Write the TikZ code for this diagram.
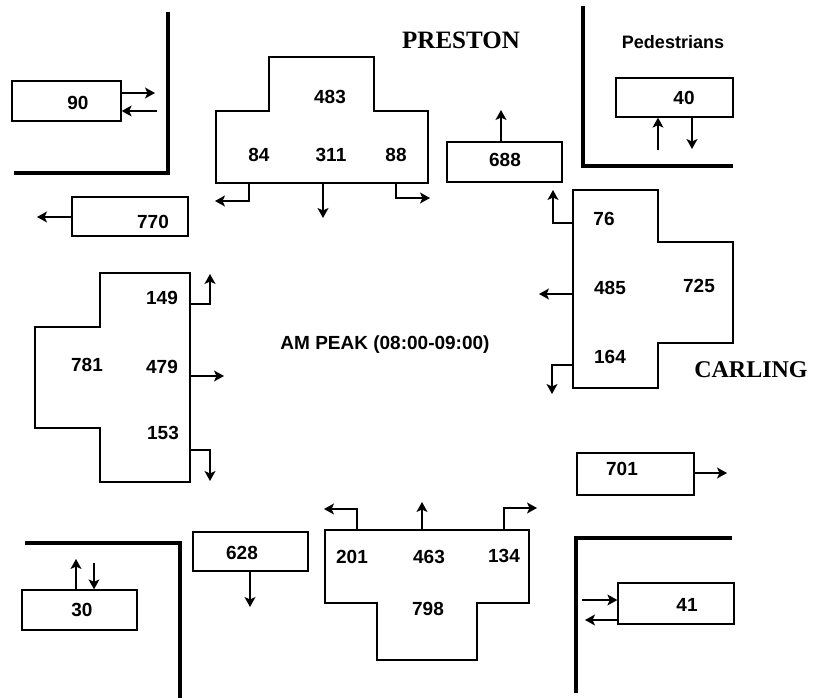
\documentclass[tikz,border=0pt]{standalone}
\usepackage{fontspec}
\setmainfont{Liberation Serif}
\setsansfont{Liberation Sans}
\usetikzlibrary{arrows.meta}
\tikzset{
  box/.style={draw, line width=1.3pt, inner sep=0pt},
  outl/.style={draw, line width=1.3pt, line join=miter},
  num/.style={font=\sffamily\bfseries\fontsize{19}{19}\selectfont, inner sep=0pt},
  smalllbl/.style={font=\sffamily\bfseries\fontsize{18}{18}\selectfont, inner sep=0pt},
  road/.style={font=\rmfamily\bfseries\fontsize{25}{25}\selectfont, inner sep=0pt},
  arr/.style={line width=1.3pt, -{Stealth[length=10pt,width=11pt,inset=2.5pt]}},
  wall/.style={line width=3.8pt, line join=miter},
}
\begin{document}
\begin{tikzpicture}[x=1pt,y=-1pt]
\fill[white] (0,0) rectangle (817,698);
\useasboundingbox (0,0) rectangle (817,698);

% ---------- corner walls ----------
\draw[wall] (168,12) -- (168,173) -- (14,173);
\draw[wall] (583,6) -- (583,166) -- (733,166);
\draw[wall] (25,543) -- (180,543) -- (180,698);
\draw[wall] (732,538) -- (576,538) -- (576,693);

% ---------- road names / titles ----------
\node[road] (preston) at (461,40) {PRESTON};
\node[road,font=\rmfamily\bfseries\fontsize{24}{24}\selectfont] (carling) at (751,370) {CARLING};
\node[smalllbl] (ped) at (673,42) {Pedestrians};
\node[num] (peak) at (385,345) {AM PEAK (08:00-09:00)};

% ---------- top-left: pedestrians 90 ----------
\node[box, minimum width=109pt, minimum height=40pt] (b90) at (66.5,101) {};
\node[num] (t90) at (78,103) {90};
\coordinate (a90o) at (155,93);
\coordinate (a90i) at (157,111);
\draw[arr] (a90o -| b90.east) -- (a90o);
\draw[arr] (a90i) -- (a90i -| b90.east);

% ---------- 770 ----------
\node[box, minimum width=116pt, minimum height=39pt] (b770) at (130,216.5) {};
\node[num] (t770) at (153,222) {770};
\coordinate (a770) at (37,217);
\draw[arr] (a770 -| b770.west) -- (a770);

% ---------- top approach (Preston south-bound) ----------
\draw[outl] (269,57) -- (374,57) -- (374,111) -- (428,111) -- (428,183)
  -- (216,183) -- (216,111) -- (269,111) -- cycle;
\node[num] (t483) at (330,97) {483};
\node[num] (t84) at (259,155) {84};
\node[num] (t311) at (331,155) {311};
\node[num] (t88) at (396,155) {88};
\coordinate (tcL) at (249,183); \coordinate (tcLe) at (215,201);
\coordinate (tcM) at (323,183); \coordinate (tcMe) at (323,218);
\coordinate (tcR) at (396,183); \coordinate (tcRe) at (430,198);
\draw[arr] (tcL) |- (tcLe);
\draw[arr] (tcM) -- (tcMe);
\draw[arr] (tcR) |- (tcRe);

% ---------- 688 ----------
\node[box, minimum width=115pt, minimum height=40pt] (b688) at (504.5,162) {};
\node[num] (t688) at (505,160) {688};
\coordinate (a688) at (501,110);
\draw[arr] (a688 |- b688.north) -- (a688);

% ---------- top-right: pedestrians 40 ----------
\node[box, minimum width=117pt, minimum height=39pt] (b40) at (674.5,97.5) {};
\node[num] (t40) at (684,98) {40};
\coordinate (a40u) at (658,150);
\coordinate (a40d) at (692,149);
\draw[arr] (a40u) -- (a40u |- b40.south);
\draw[arr] (a40d |- b40.south) -- (a40d);

% ---------- right approach (Carling west-bound) ----------
\draw[outl] (573,190) -- (658,190) -- (658,242) -- (733,242) -- (733,343)
  -- (658,343) -- (658,388) -- (573,388) -- cycle;
\node[num] (t76) at (604,219) {76};
\node[num] (t485) at (610,288) {485};
\node[num] (t725) at (699,286) {725};
\node[num] (t164) at (610,357) {164};
\coordinate (rcU) at (573,223); \coordinate (rcUe) at (553,190);
\coordinate (rcM) at (573,294); \coordinate (rcMe) at (539,294);
\coordinate (rcD) at (573,365); \coordinate (rcDe) at (552,394);
\draw[arr] (rcU) -| (rcUe);
\draw[arr] (rcM) -- (rcMe);
\draw[arr] (rcD) -| (rcDe);

% ---------- left approach (Carling east-bound) ----------
\draw[outl] (100,273) -- (190,273) -- (190,482) -- (100,482) -- (100,428)
  -- (35,428) -- (35,327) -- (100,327) -- cycle;
\node[num] (t149) at (162,298) {149};
\node[num] (t781) at (87,365) {781};
\node[num] (t479) at (162,367) {479};
\node[num] (t153) at (163,433) {153};
\coordinate (lcU) at (190,304); \coordinate (lcUe) at (210,274);
\coordinate (lcM) at (190,376); \coordinate (lcMe) at (224,376);
\coordinate (lcD) at (190,450); \coordinate (lcDe) at (210,481);
\draw[arr] (lcU) -| (lcUe);
\draw[arr] (lcM) -- (lcMe);
\draw[arr] (lcD) -| (lcDe);

% ---------- bottom approach (Preston north-bound) ----------
\draw[outl] (325,530) -- (529,530) -- (529,603) -- (477,603) -- (477,660)
  -- (377,660) -- (377,603) -- (325,603) -- cycle;
\node[num] (t201) at (352,557) {201};
\node[num] (t463) at (429,557) {463};
\node[num] (t134) at (504,556) {134};
\node[num] (t798) at (428,609) {798};
\coordinate (bcL) at (357,530); \coordinate (bcLe) at (324,509);
\coordinate (bcM) at (422,530); \coordinate (bcMe) at (422,502);
\coordinate (bcR) at (504,530); \coordinate (bcRe) at (537,508);
\draw[arr] (bcL) |- (bcLe);
\draw[arr] (bcM) -- (bcMe);
\draw[arr] (bcR) |- (bcRe);

% ---------- 628 ----------
\node[box, minimum width=115pt, minimum height=39pt] (b628) at (250.5,551.5) {};
\node[num] (t628) at (242,553) {628};
\coordinate (a628) at (250,607);
\draw[arr] (a628 |- b628.south) -- (a628);

% ---------- bottom-left: pedestrians 30 ----------
\node[box, minimum width=115pt, minimum height=40pt] (b30) at (79.5,610) {};
\node[num] (t30) at (82,610) {30};
\coordinate (a30u) at (76,559);
\coordinate (a30d) at (94,563);
\draw[arr] (a30u |- b30.north) -- (a30u);
\draw[arr] (a30d) -- (a30d |- b30.north);

% ---------- 701 ----------
\node[box, minimum width=117pt, minimum height=42pt] (b701) at (635.5,474) {};
\node[num] (t701) at (622,469) {701};
\coordinate (a701) at (727,473);
\draw[arr] (a701 -| b701.east) -- (a701);

% ---------- bottom-right: pedestrians 41 ----------
\node[box, minimum width=116pt, minimum height=41pt] (b41) at (676,603.5) {};
\node[num] (t41) at (687,605) {41};
\coordinate (a41i) at (582,600);
\coordinate (a41o) at (585,620);
\draw[arr] (a41i) -- (a41i -| b41.west);
\draw[arr] (a41o -| b41.west) -- (a41o);
\end{tikzpicture}
\end{document}
